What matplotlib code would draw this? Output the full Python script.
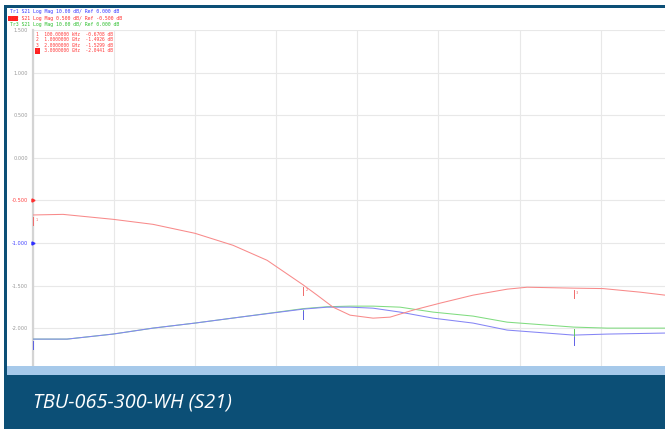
import numpy as np
import matplotlib
matplotlib.use('Agg')
import matplotlib.pyplot as plt
from matplotlib.patches import Rectangle

W, H = 665, 429

# frequency (GHz) and displayed level (grid units, 0.5 dB/div scale)
f_red = [0.0, 0.111, 0.296, 0.444, 0.599, 0.740, 0.866, 1.0, 1.051, 1.110,
         1.173, 1.258, 1.321, 1.406, 1.506, 1.628, 1.754, 1.828, 2.0, 2.109,
         2.246, 2.338]
v_red = [-0.671, -0.664, -0.722, -0.781, -0.886, -1.027, -1.203, -1.493,
         -1.612, -1.753, -1.847, -1.882, -1.870, -1.788, -1.706, -1.612,
         -1.542, -1.519, -1.530, -1.535, -1.577, -1.612]
f_blue = [0.0, 0.126, 0.296, 0.444, 0.599, 0.766, 1.0, 1.088, 1.173, 1.258,
          1.358, 1.480, 1.628, 1.754, 2.0, 2.124, 2.338]
v_blue = [-2.128, -2.128, -2.069, -1.999, -1.940, -1.870, -1.776, -1.753,
          -1.753, -1.765, -1.811, -1.882, -1.940, -2.022, -2.081, -2.069,
          -2.057]
f_green = [0.0, 0.126, 0.296, 0.444, 0.599, 0.766, 1.0, 1.088, 1.173, 1.258,
           1.358, 1.480, 1.628, 1.754, 2.0, 2.124, 2.338]
v_green = [-2.128, -2.128, -2.069, -1.999, -1.940, -1.870, -1.770, -1.748,
           -1.741, -1.741, -1.753, -1.811, -1.858, -1.929, -1.987, -1.999,
           -1.999]

marker_f = [0.0, 1.0, 2.0]
yticks = [1.5, 1.0, 0.5, 0.0, -0.5, -1.0, -1.5, -2.0]
ytick_labels = ['1.500', '1.000', '0.500', '0.000', '-0.500', '-1.000',
                '-1.500', '-2.000']
header = [('Tr1 S21 Log Mag 10.00 dB/ Ref 0.000 dB', '#3a3aff'),
          ('Tr2 S21 Log Mag 0.500 dB/ Ref -0.500 dB', '#ff3030'),
          ('Tr3 S21 Log Mag 10.00 dB/ Ref 0.000 dB', '#30c030')]
marker_rows = ['1  100.00000 kHz  -0.6708 dB',
               '2  1.0000000 GHz  -1.4926 dB',
               '3  2.0000000 GHz  -1.5299 dB',
               '4  3.0000000 GHz  -2.0441 dB']
caption = 'TBU-065-300-WH (S21)'

DARK = '#0c4f76'
LIGHT = '#a6c9ea'


def px(x0, y0, x1, y1):
    # pixel box (from top-left) -> figure fraction rect
    return [x0 / W, 1 - y1 / H, (x1 - x0) / W, (y1 - y0) / H]


fig = plt.figure(figsize=(W / 100, H / 100), dpi=100)
fig.patch.set_facecolor('white')


def box(x0, y0, x1, y1, color, z=0):
    l, b, w, h = px(x0, y0, x1, y1)
    fig.add_artist(Rectangle((l, b), w, h, transform=fig.transFigure,
                             facecolor=color, edgecolor='none', zorder=z))


box(4, 5, W, H, DARK)
box(7, 8, W, 366, 'white')

ax = fig.add_axes(px(33, 30, W, 370.8))
ax.set_facecolor('white')
ax.set_xlim(0, 2.338)
ax.set_ylim(-2.5, 1.5)
ax.set_xticks(np.arange(0, 2.34, 0.3))
ax.set_yticks(yticks)
ax.set_yticklabels(ytick_labels, fontsize=3.6, color='#999999')
for lab in ax.get_yticklabels():
    if lab.get_text() == '-0.500':
        lab.set_color('#ff4040')
    if lab.get_text() == '-1.000':
        lab.set_color('#4040ff')
ax.set_xticklabels([])
ax.tick_params(length=0, pad=3.5)
ax.grid(True, color='#e8e8e8', lw=0.8)
for s in ['top', 'right', 'bottom']:
    ax.spines[s].set_visible(False)
ax.spines['left'].set_color('#d4d4d4')
ax.spines['left'].set_linewidth(1.6)

ax.plot(f_green, v_green, color='#80dc80', lw=0.75, zorder=3)
ax.plot(f_blue, v_blue, color='#8585f5', lw=0.75, zorder=4)
ax.plot(f_red, v_red, color='#f88a8a', lw=0.75, zorder=5)

# reference arrows on the left edge
ax.plot([0], [-0.5], marker='>', color='#ff3030', ms=2.2, clip_on=False, zorder=6)
ax.plot([0], [-1.0], marker='>', color='#3030ff', ms=2.2, clip_on=False, zorder=6)

# trace markers
for i, f in enumerate(marker_f):
    for fs, vs, c in [(f_red, v_red, '#f06a6a'), (f_green, v_green, '#60c860'),
                      (f_blue, v_blue, '#6060e6')]:
        v = np.interp(f, fs, vs)
        ax.plot([f, f], [v - 0.02, v - 0.12], color=c, lw=0.7, zorder=6,
                clip_on=False)
    ax.text(marker_f[i] + 0.008, np.interp(f, f_red, v_red) - 0.07, str(i + 1),
            fontsize=2.5, color='#f06060', zorder=6)

# header lines
for k, (t, c) in enumerate(header):
    fig.text(10 / W, 1 - (12 + 6.3 * k) / H, t, fontsize=3.5, color=c,
             family='DejaVu Sans Mono', va='center')
l, b, w, h = px(8, 15.5, 18, 21)
fig.add_artist(Rectangle((l, b), w, h, transform=fig.transFigure,
                         facecolor='#ff2020', edgecolor='none', zorder=1))

for k, t in enumerate(marker_rows):
    fig.text(36 / W, 1 - (34 + 5.6 * k) / H, t, fontsize=3.3, color='#ff3a3a',
             family='DejaVu Sans Mono', va='center')
l, b, w, h = px(35, 48.5, 39.5, 53.5)
fig.add_artist(Rectangle((l, b), w, h, transform=fig.transFigure,
                         facecolor='#ff2020', edgecolor='none', zorder=1))

box(7, 366, W, 375, LIGHT, z=5)
box(4, 375, W, H, DARK, z=5)
fig.text(33 / W, 1 - 402.5 / H, caption, fontsize=14.3, color='white',
         style='italic', family='Open Sans', va='center', zorder=6)

fig.savefig('out.png', dpi=100, facecolor=fig.get_facecolor())
